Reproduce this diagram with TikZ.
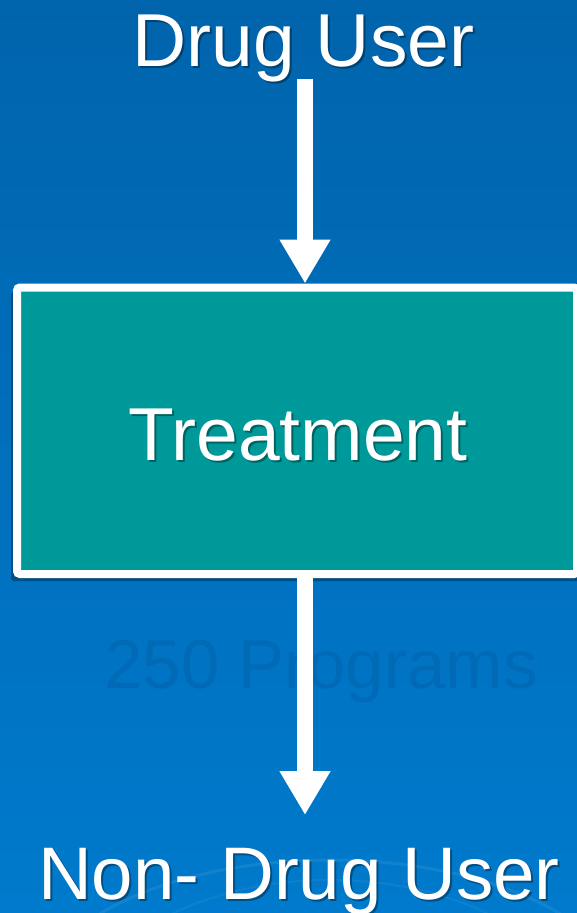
\documentclass[tikz,border=0pt]{standalone}
\usepackage{fontspec}
\setmainfont{Liberation Sans}
\usetikzlibrary{arrows.meta}
\definecolor{bgtop}{RGB}{0,100,172}
\definecolor{bgbot}{RGB}{0,122,204}
\definecolor{teal}{RGB}{0,153,153}
\definecolor{ghost}{RGB}{0,106,182}
\tikzset{
  big/.style={font=\fontsize{75}{80}\selectfont, text=white, anchor=base, inner sep=0pt},
  shad/.style={font=\fontsize{75}{80}\selectfont, text=black, text opacity=0.35, anchor=base, inner sep=0pt},
  flow/.style={draw=white, line width=16pt, -{Triangle[width=48pt,length=44pt]}},
  boxstyle/.style={draw=white, fill=teal, line width=8pt, rounded corners=3pt, minimum width=560pt, minimum height=286.5pt, inner sep=0pt}
}
\begin{document}
\begin{tikzpicture}[x=1pt,y=-1pt]
\useasboundingbox (0,0) rectangle (577,913);
\begin{scope}
\clip (0,0) rectangle (577,913);
\shade[top color=bgtop, bottom color=bgbot] (0,0) rectangle (577,913);
\draw[white, opacity=0.07, line width=3pt] (330,1010) ellipse (300 and 150);
\draw[white, opacity=0.05, line width=2pt] (330,1030) ellipse (250 and 150);
% ghost text
\node[font=\fontsize{69}{75}\selectfont, text=ghost, anchor=base, inner sep=0pt] (ghost) at (321,688) {250 Programs};
% box shadow
\fill[black, opacity=0.3, rounded corners=3pt] (11,292) rectangle (590,581);
\node[boxstyle] (box) at (297,430.75) {};
\end{scope}
% texts
\node[shad] (dus) at (305.5,68.5) {Drug User};
\node[big] (du) at (303.5,66.5) {Drug User};
\node[shad] (trs) at (300,462) {Treatment};
\node[big] (tr) at (298,460) {Treatment};
\node[shad, font=\fontsize{74.5}{78}\selectfont] (ndus) at (301,901) {Non- Drug User};
\node[big, font=\fontsize{74.5}{78}\selectfont] (ndu) at (299,899) {Non- Drug User};
% connectors
\coordinate (a1) at (305,79);
\coordinate (a2) at (305,815);
\draw[flow] (a1) -- (a1 |- box.north);
\draw[flow] (a1 |- box.south) -- (a2);
\end{tikzpicture}
\end{document}
